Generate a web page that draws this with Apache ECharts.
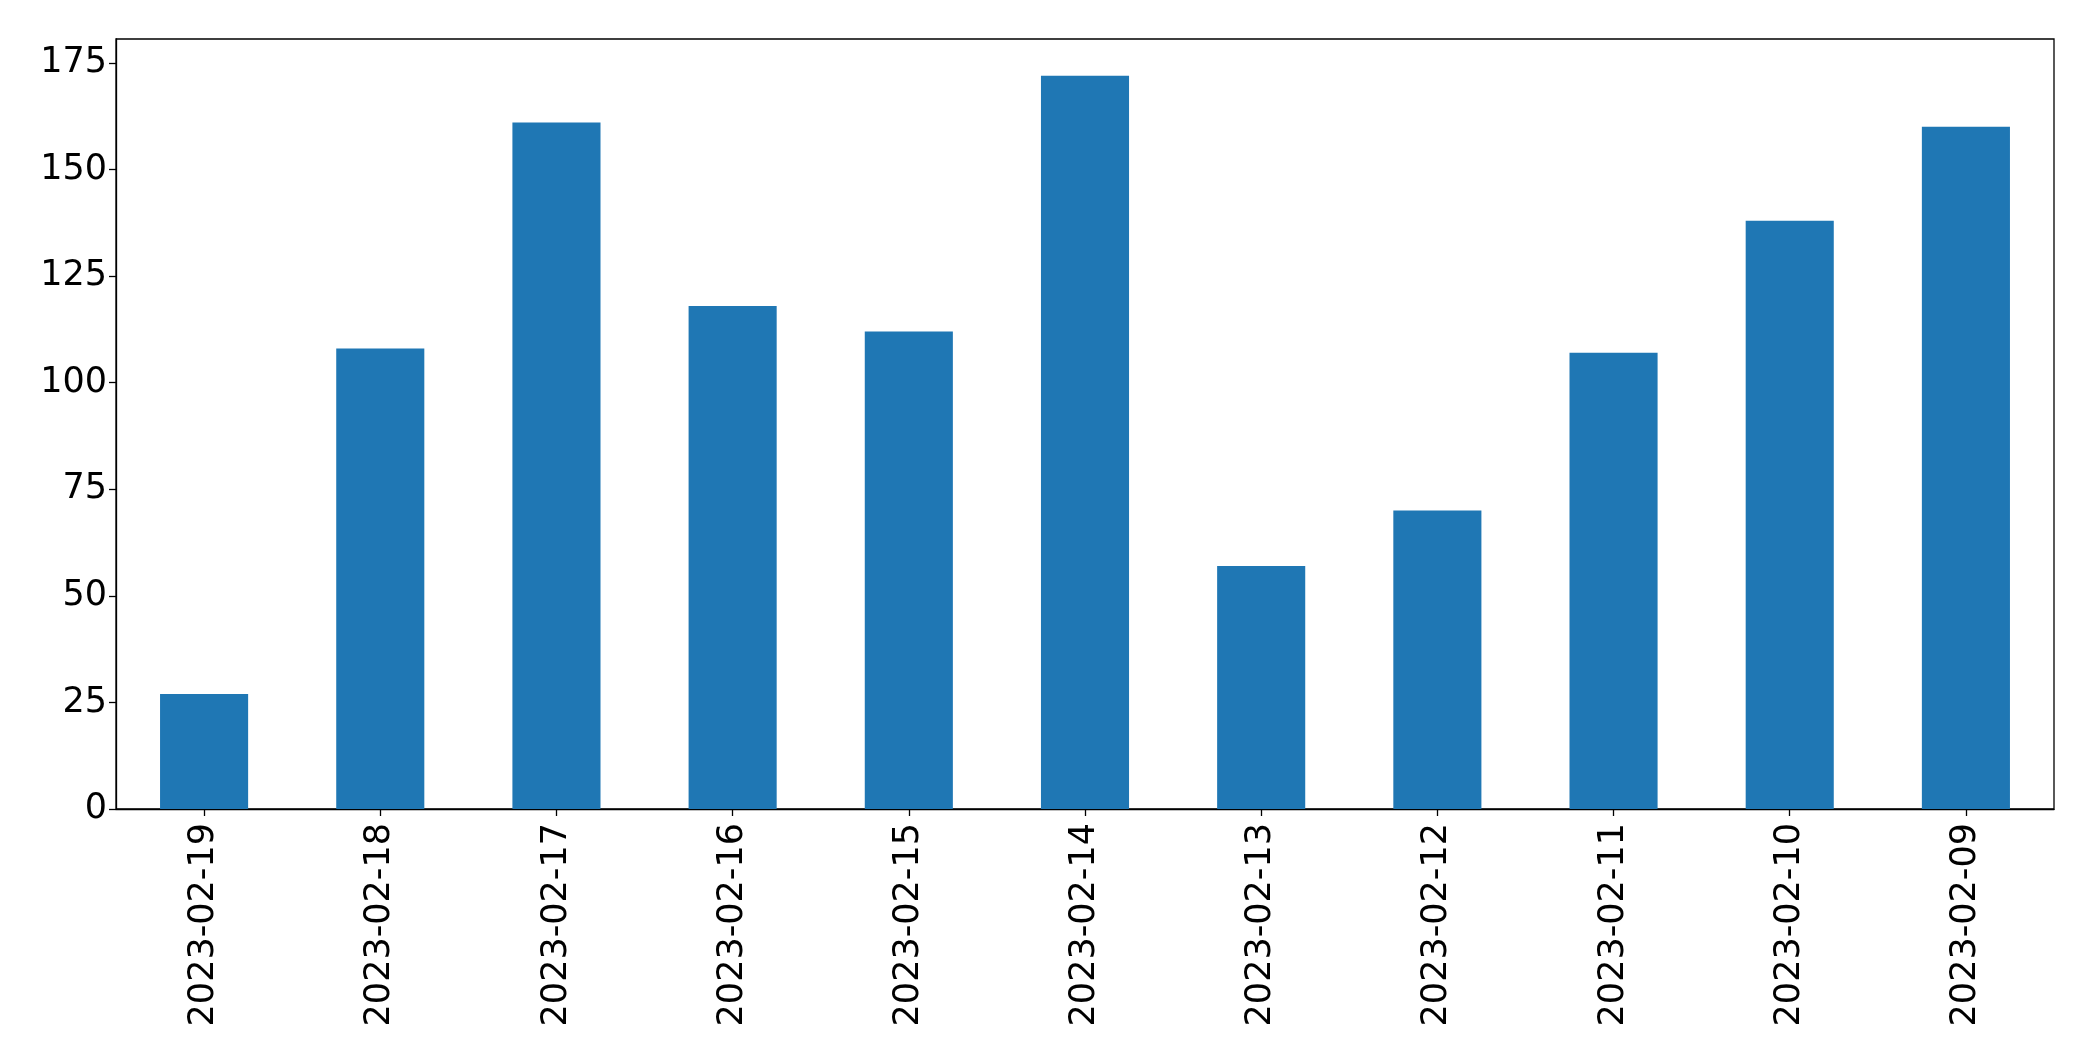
<!DOCTYPE html>
<html>
<head>
<meta charset="utf-8">
<script src="https://cdn.jsdelivr.net/npm/echarts@6/dist/echarts.min.js"></script>
<style>
html,body{margin:0;padding:0;background:#fff;}
#chart{width:2093px;height:1061px;}
</style>
</head>
<body>
<div id="chart"></div>
<script>
const categories = ["2023-02-19","2023-02-18","2023-02-17","2023-02-16","2023-02-15","2023-02-14","2023-02-13","2023-02-12","2023-02-11","2023-02-10","2023-02-09"];
const values = [27, 108, 161, 118, 112, 172, 57, 70, 107, 138, 160];
const yTicks = [0, 25, 50, 75, 100, 125, 150, 175];

const chart = echarts.init(document.getElementById('chart'), null, {renderer: 'canvas'});
const font = "DejaVu Sans";
chart.setOption({
  animation: false,
  grid: {left: 116, right: 39, top: 39, bottom: 252, show: true, borderColor: '#000', borderWidth: 1.3, backgroundColor: 'transparent'},
  xAxis: {
    type: 'category',
    data: categories,
    boundaryGap: true,
    axisLine: {show: true, lineStyle: {color: '#000', width: 1.3}},
    axisTick: {show: true, alignWithLabel: true, length: 7, lineStyle: {color: '#000', width: 1.3}},
    axisLabel: {rotate: 90, margin: 14, fontFamily: font, fontSize: 35, color: '#000', interval: 0},
    splitLine: {show: false}
  },
  yAxis: {
    type: 'value',
    min: 0,
    max: 180.6,
    axisLine: {show: true, lineStyle: {color: '#000', width: 1.3}},
    axisTick: {show: true, length: 7, lineStyle: {color: '#000', width: 1.3}, customValues: yTicks},
    axisLabel: {margin: 9, fontFamily: font, fontSize: 35, color: '#000', customValues: yTicks},
    splitLine: {show: false}
  },
  series: [{
    type: 'bar',
    data: values,
    barWidth: '50%',
    itemStyle: {color: '#1f77b4'}
  }]
});
</script>
</body>
</html>
